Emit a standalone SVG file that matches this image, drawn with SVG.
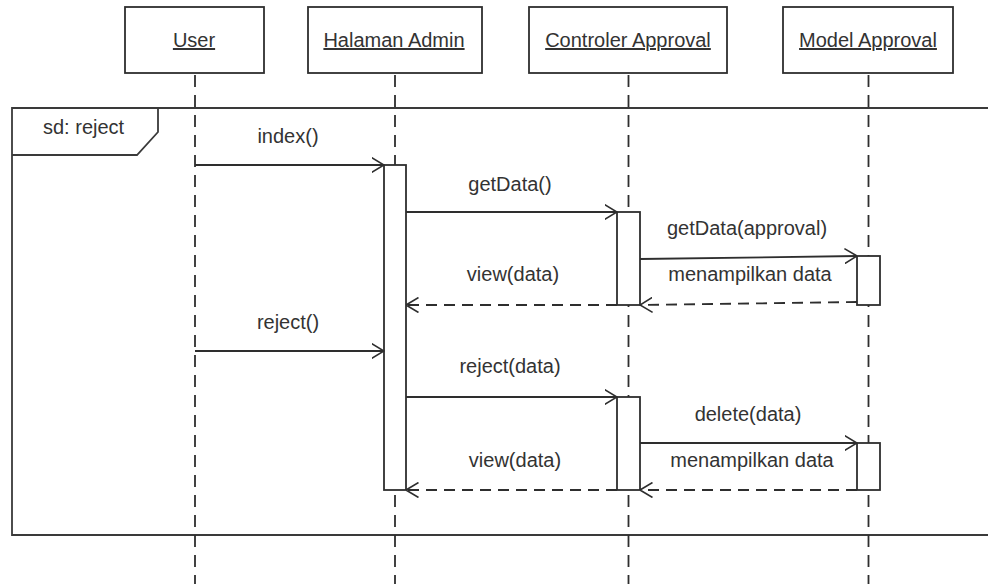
<svg xmlns="http://www.w3.org/2000/svg" width="988" height="584" viewBox="0 0 988 584">
  <style>
    .box { fill: #fff; stroke: #2e2e2e; stroke-width: 1.8; }
    .act { fill: #fff; stroke: #2e2e2e; stroke-width: 1.8; }
    .life { stroke: #2e2e2e; stroke-width: 1.8; stroke-dasharray: 12 8; fill: none; }
    .frame { fill: none; stroke: #3a3a3a; stroke-width: 1.8; }
    .msg { stroke: #2e2e2e; stroke-width: 1.8; fill: none; marker-end: url(#open); }
    .ret { stroke: #2e2e2e; stroke-width: 1.8; fill: none; stroke-dasharray: 11 7; marker-end: url(#open); }
    .name { font-family: "Liberation Sans", Arial, sans-serif; font-size: 20px; fill: #333; text-anchor: middle; text-decoration: underline; }
    .lbl { font-family: "Liberation Sans", Arial, sans-serif; font-size: 20px; fill: #333; text-anchor: middle; }
  </style>
  <defs>
    <marker id="open" viewBox="0 0 13 16" refX="12.5" refY="8" markerWidth="13" markerHeight="16" markerUnits="userSpaceOnUse" orient="auto">
      <path d="M0,0.5 L12.5,8 L0,15.5" fill="none" stroke="#2e2e2e" stroke-width="1.6"/>
    </marker>
  </defs>

  <rect width="988" height="584" fill="#fff"/>

  <!-- interaction frame -->
  <g id="frame">
    <path class="frame" d="M990,108 H12 V535 H990"/>
    <path class="frame" d="M12,155 H137 L158,132 V108"/>
    <text x="43" y="134" font-family="Liberation Sans, Arial, sans-serif" font-size="20" fill="#333">sd: reject</text>
  </g>

  <!-- lifelines -->
  <g id="lifelines">
    <line class="life" x1="195" y1="75" x2="195" y2="584"/>
    <line class="life" x1="395" y1="75" x2="395" y2="584"/>
    <line class="life" x1="628.5" y1="75" x2="628.5" y2="584"/>
    <line class="life" x1="868.5" y1="75" x2="868.5" y2="584"/>
  </g>

  <!-- participants -->
  <g id="user">
    <rect class="box" x="125" y="7" width="139" height="66"/>
    <text class="name" x="194" y="47">User</text>
  </g>
  <g id="halaman-admin">
    <rect class="box" x="308" y="7" width="174" height="66"/>
    <text class="name" x="394" y="47">Halaman Admin</text>
  </g>
  <g id="controler-approval">
    <rect class="box" x="529" y="7" width="198" height="66"/>
    <text class="name" x="628" y="47">Controler Approval</text>
  </g>
  <g id="model-approval">
    <rect class="box" x="783" y="7" width="170" height="66"/>
    <text class="name" x="868" y="47">Model Approval</text>
  </g>

  <!-- activation bars -->
  <g id="activations">
    <rect class="act" x="384" y="165" width="22" height="325"/>
    <rect class="act" x="617" y="212" width="23" height="93"/>
    <rect class="act" x="857" y="256" width="23" height="49"/>
    <rect class="act" x="617" y="397" width="23" height="93"/>
    <rect class="act" x="857" y="443" width="23" height="47"/>
  </g>

  <!-- messages -->
  <g id="connectors">
    <line class="msg" x1="195" y1="165" x2="384" y2="165"/>
    <text class="lbl" x="288" y="143">index()</text>

    <line class="msg" x1="406" y1="212" x2="617" y2="212"/>
    <text class="lbl" x="510" y="191">getData()</text>

    <line class="msg" x1="640" y1="259" x2="857" y2="256"/>
    <text class="lbl" x="747" y="235">getData(approval)</text>

    <line class="ret" x1="857" y1="302" x2="640" y2="305"/>
    <text class="lbl" x="750" y="281">menampilkan data</text>

    <line class="ret" x1="617" y1="305" x2="406" y2="305"/>
    <text class="lbl" x="513" y="281">view(data)</text>

    <line class="msg" x1="195" y1="351" x2="384" y2="351"/>
    <text class="lbl" x="288" y="329">reject()</text>

    <line class="msg" x1="406" y1="397" x2="617" y2="397"/>
    <text class="lbl" x="510" y="373">reject(data)</text>

    <line class="msg" x1="640" y1="443" x2="857" y2="443"/>
    <text class="lbl" x="748" y="421">delete(data)</text>

    <line class="ret" x1="857" y1="490" x2="640" y2="490"/>
    <text class="lbl" x="752" y="467">menampilkan data</text>

    <line class="ret" x1="617" y1="490" x2="406" y2="490"/>
    <text class="lbl" x="515" y="467">view(data)</text>
  </g>
</svg>
